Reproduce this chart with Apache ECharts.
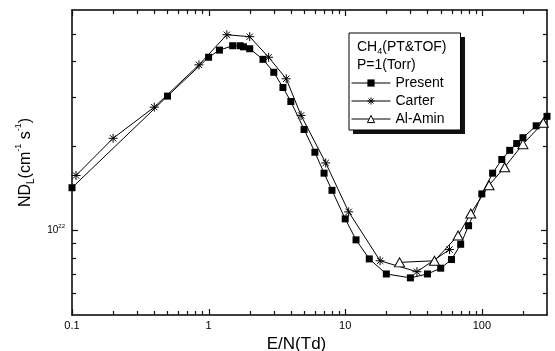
<!DOCTYPE html>
<html>
<head>
<meta charset="utf-8">
<script src="https://cdn.jsdelivr.net/npm/echarts@6/dist/echarts.min.js"></script>
<style>
  html, body { margin: 0; padding: 0; background: #fff; }
  #chart { width: 555px; height: 351px; }
</style>
</head>
<body>
<div id="chart"></div>
<script>
// E/N (Td) and ND_L (cm^-1 s^-1)
const presentX = [0.1, 0.5, 1, 1.2, 1.5, 1.7, 1.8, 2, 2.5, 3, 3.5, 4, 5, 6, 7, 8, 10, 12, 15, 20, 30, 40, 50, 60, 70, 80, 100, 120, 140, 160, 180, 200, 250, 300];
const presentY = [1.42e22, 3.01e22, 4.14e22, 4.39e22, 4.55e22, 4.55e22, 4.51e22, 4.44e22, 4.07e22, 3.66e22, 3.23e22, 2.88e22, 2.29e22, 1.90e22, 1.60e22, 1.39e22, 1.10e22, 9.26e21, 7.92e21, 7.0e21, 6.78e21, 7.0e21, 7.34e21, 7.88e21, 8.93e21, 1.04e22, 1.35e22, 1.60e22, 1.79e22, 1.93e22, 2.04e22, 2.14e22, 2.36e22, 2.55e22];

const carterX = [0.107, 0.2, 0.4, 0.85, 1.36, 2.0, 2.75, 3.7, 4.75, 7.2, 10.6, 18, 33.5, 58];
const carterY = [1.57e22, 2.13e22, 2.75e22, 3.89e22, 4.98e22, 4.90e22, 4.14e22, 3.47e22, 2.57e22, 1.74e22, 1.165e22, 7.8e21, 7.13e21, 8.55e21];

const alAminX = [25, 45, 67, 83, 113, 147, 200, 282];
const alAminY = [7.7e21, 7.8e21, 9.6e21, 1.15e22, 1.45e22, 1.68e22, 2.03e22, 2.42e22];

const xMajorTicks = [0.1, 1, 10, 100];
const xTickLabels = ['0.1', '1', '10', '100'];
const xMinorTicks = [0.2, 0.3, 0.4, 0.5, 0.6, 0.7, 0.8, 0.9, 2, 3, 4, 5, 6, 7, 8, 9, 20, 30, 40, 50, 60, 70, 80, 90, 200];
const yMajorTicks = [1e22];
const yMinorTicks = [6e21, 7e21, 8e21, 9e21, 2e22, 3e22, 4e22, 5e22];

const FONT = 'Liberation Sans, Arial, Helvetica, sans-serif';
const INK = '#111';
const X_MIN = 0.1, X_MAX = 300, Y_MIN = 5e21, Y_MAX = 6.1e22;

const zip = (xs, ys) => xs.map((x, i) => [x, ys[i]]);
const asterisk = 'path://M5,0L5,10M0,5L10,5M1.5,1.5L8.5,8.5M1.5,8.5L8.5,1.5';

function sameLog(a, b) {
  return Math.abs(Math.log10(a) - Math.log10(b)) < 1e-6;
}

function frameAxis(dim, position, opts) {
  return Object.assign({
    type: 'log',
    min: dim === 'x' ? X_MIN : Y_MIN,
    max: dim === 'x' ? X_MAX : Y_MAX,
    position: position,
    axisLine: { show: true, onZero: false, lineStyle: { color: '#000', width: 1.5 } },
    axisTick: { show: false },
    axisLabel: { show: false },
    splitLine: { show: false }
  }, opts || {});
}

// one inward tick per item, placed through the axes' own log scales
function tickSeries(side, majors, values) {
  const isX = side === 'bottom' || side === 'top';
  return {
    type: 'custom',
    clip: false,
    z: 10,
    data: values.map(v => (isX ? [v, side === 'bottom' ? Y_MIN : Y_MAX] : [side === 'left' ? X_MIN : X_MAX, v])),
    renderItem: (params, api) => {
      const p = api.coord([api.value(0), api.value(1)]);
      const v = api.value(isX ? 0 : 1);
      const len = majors.some(t => sameLog(t, v)) ? 6 : 4;
      if (isX) {
        const x = Math.round(p[0]) + 0.5;
        const dy = side === 'bottom' ? -len : len;
        return { type: 'line', shape: { x1: x, y1: p[1], x2: x, y2: p[1] + dy }, style: { stroke: INK, lineWidth: 1.2 } };
      }
      const y = Math.round(p[1]) + 0.5;
      const dx = side === 'left' ? len : -len;
      return { type: 'line', shape: { x1: p[0], y1: y, x2: p[0] + dx, y2: y }, style: { stroke: INK, lineWidth: 1.2 } };
    }
  };
}

const xTickValues = xMajorTicks.concat(xMinorTicks);
const yTickValues = yMajorTicks.concat(yMinorTicks);

const chart = echarts.init(document.getElementById('chart'));

chart.setOption({
  animation: false,
  grid: { left: 72, right: 8, top: 10, bottom: 36, outerBoundsMode: 'none' },
  title: {
    left: 357,
    top: 38,
    padding: 0,
    z: 8,
    text: '{a|CH}{s|4}{a|(PT&TOF)}\n{a|P=1(Torr)}',
    textStyle: {
      fontWeight: 'normal',
      rich: {
        a: { fontFamily: FONT, fontSize: 14, fontWeight: 'normal', color: '#000', lineHeight: 18 },
        s: { fontFamily: FONT, fontSize: 9, fontWeight: 'normal', color: '#000', lineHeight: 9, verticalAlign: 'bottom' }
      }
    }
  },
  legend: [
    // solid drop shadow: same box, offset, under the real legend
    {
      left: 353,
      top: 37,
      z: 3,
      orient: 'vertical',
      padding: [43, 16, 4, 2],
      itemWidth: 39,
      itemHeight: 9,
      itemGap: 4,
      selectedMode: false,
      backgroundColor: INK,
      textStyle: { fontFamily: FONT, fontSize: 14, lineHeight: 14, color: INK },
      data: ['Present', 'Carter', 'Al-Amin']
    },
    {
      left: 349,
      top: 33,
      z: 4,
      orient: 'vertical',
      padding: [43, 16, 4, 2],
      itemWidth: 39,
      itemHeight: 9,
      itemGap: 4,
      selectedMode: false,
      backgroundColor: '#fff',
      borderColor: '#000',
      borderWidth: 1,
      itemStyle: { borderWidth: 1 },
      lineStyle: { width: 1, color: '#000' },
      textStyle: { fontFamily: FONT, fontSize: 14, color: '#000', lineHeight: 14 },
      data: ['Present', 'Carter', 'Al-Amin']
    }
  ],
  xAxis: [
    frameAxis('x', 'bottom', {
      axisLabel: {
        show: true,
        customValues: xMajorTicks,
        margin: 5,
        fontFamily: FONT,
        fontSize: 11,
        color: '#000',
        formatter: v => xTickLabels[xMajorTicks.findIndex(t => sameLog(t, v))]
      },
      name: 'E/N(Td)',
      nameLocation: 'middle',
      nameGap: 19,
      nameTextStyle: { fontFamily: FONT, fontSize: 17, color: '#000', padding: [0, 26, 0, 0] }
    }),
    frameAxis('x', 'top')
  ],
  yAxis: [
    frameAxis('y', 'left', {
      axisLabel: {
        show: true,
        customValues: yMajorTicks,
        margin: 7,
        formatter: () => '{b|10}{e|22}',
        rich: {
          b: { fontFamily: FONT, fontSize: 10, color: '#000', lineHeight: 14 },
          e: { fontFamily: FONT, fontSize: 6, color: '#000', lineHeight: 7, verticalAlign: 'top' }
        }
      },
      name: '{a|ND}{s|L}{a|(cm}{p|-1}{a| s}{p|-1}{a|)}',
      nameLocation: 'middle',
      nameGap: 33,
      nameTextStyle: {
        rich: {
          a: { fontFamily: FONT, fontSize: 16, color: '#000', lineHeight: 22 },
          s: { fontFamily: FONT, fontSize: 10, color: '#000', lineHeight: 10, verticalAlign: 'bottom' },
          p: { fontFamily: FONT, fontSize: 9, color: '#000', lineHeight: 9, verticalAlign: 'top' }
        }
      }
    }),
    frameAxis('y', 'right')
  ],
  series: [
    {
      name: 'Present',
      type: 'line',
      data: zip(presentX, presentY),
      symbol: 'rect',
      symbolSize: 7,
      lineStyle: { color: '#000', width: 1 },
      itemStyle: { color: '#000', borderWidth: 0 },
      emphasis: { disabled: true }
    },
    {
      name: 'Carter',
      type: 'line',
      data: zip(carterX, carterY),
      symbol: asterisk,
      symbolSize: 9,
      lineStyle: { color: '#000', width: 1 },
      itemStyle: { color: '#000', borderColor: '#000', borderWidth: 1 },
      emphasis: { disabled: true }
    },
    {
      name: 'Al-Amin',
      type: 'line',
      data: zip(alAminX, alAminY),
      symbol: 'triangle',
      symbolSize: [10, 9],
      lineStyle: { color: '#000', width: 1 },
      itemStyle: { color: '#fff', borderColor: '#000', borderWidth: 1 },
      emphasis: { disabled: true }
    },
    tickSeries('bottom', xMajorTicks, xTickValues),
    tickSeries('top', xMajorTicks, xTickValues),
    tickSeries('left', yMajorTicks, yTickValues),
    tickSeries('right', yMajorTicks, yTickValues)
  ]
});
</script>
</body>
</html>
